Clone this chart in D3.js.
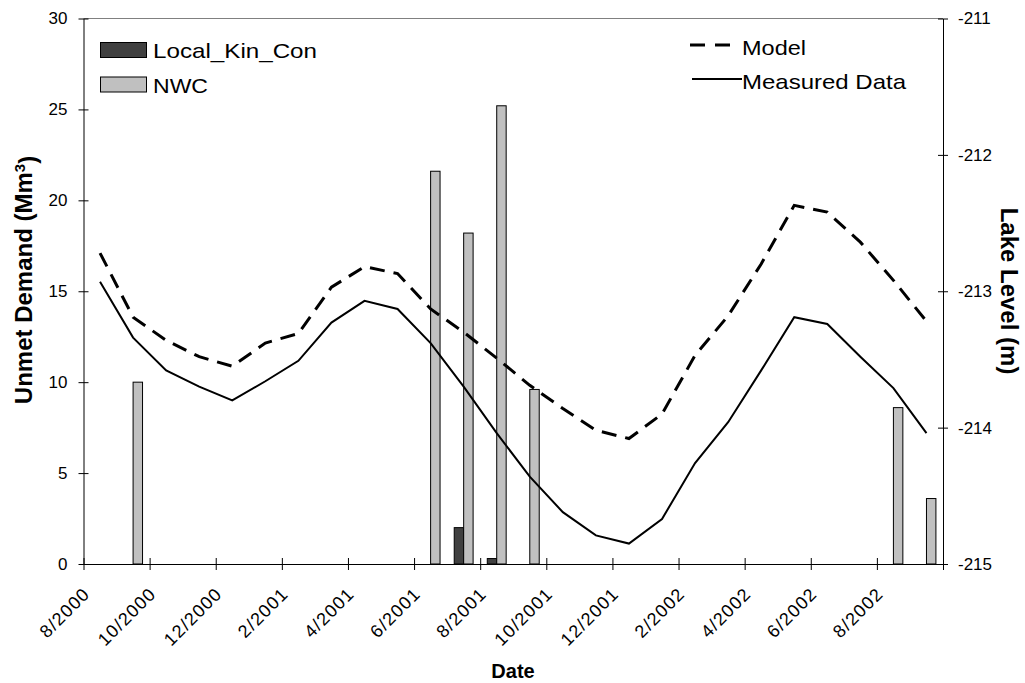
<!DOCTYPE html>
<html>
<head>
<meta charset="utf-8">
<script src="https://cdn.jsdelivr.net/npm/d3@7"></script>
<style>
  body { margin: 0; background: #fff; }
  text { font-family: "Liberation Sans", Arial, sans-serif; fill: #000; }
</style>
</head>
<body>
<svg id="chart" width="1025" height="683"></svg>
<script>
// месяцы (категории)
var months = ['8/2000', '9/2000', '10/2000', '11/2000', '12/2000',
    '1/2001', '2/2001', '3/2001', '4/2001', '5/2001', '6/2001', '7/2001', '8/2001',
    '9/2001', '10/2001', '11/2001', '12/2001',
    '1/2002', '2/2002', '3/2002', '4/2002', '5/2002', '6/2002', '7/2002', '8/2002', '9/2002'];

// Unmet demand (Mm3)
var localKinCon = [0, 0, 0, 0, 0, 0, 0, 0, 0, 0, 0, 2.0, 0.3, 0, 0, 0, 0, 0, 0, 0, 0, 0, 0, 0, 0, 0];
var nwc = [0, 10.0, 0, 0, 0, 0, 0, 0, 0, 0, 21.6, 18.2, 25.2, 9.6, 0, 0, 0, 0, 0, 0, 0, 0, 0, 0, 8.6, 3.6];

// Lake level (m)
var model = [-212.72, -213.19, -213.36, -213.48, -213.55, -213.38, -213.31, -212.97, -212.82, -212.87,
    -213.13, -213.30, -213.49, -213.69, -213.86, -214.02, -214.08, -213.90, -213.47, -213.18,
    -212.80, -212.37, -212.42, -212.64, -212.92, -213.22];
var measured = [-212.93, -213.34, -213.58, -213.70, -213.80, -213.66, -213.51, -213.23, -213.07, -213.13,
    -213.38, -213.70, -214.04, -214.36, -214.62, -214.79, -214.85, -214.67, -214.26, -213.96,
    -213.58, -213.19, -213.24, -213.48, -213.71, -214.04];

var leftTicks = [0, 5, 10, 15, 20, 25, 30];
var rightTicks = [-215, -214, -213, -212, -211];

var svg = d3.select('#chart');
var pLeft = 83.5, pRight = 943, pTop = 18.5, pBottom = 564;

var x = d3.scaleBand().domain(months).range([pLeft, pRight]);
var xIdx = d3.scaleLinear().domain([0, months.length]).range([pLeft, pRight]);
var yL = d3.scaleLinear().domain([0, 30]).range([pBottom, pTop]);
var yR = d3.scaleLinear().domain([-215, -211]).range([pBottom, pTop]);

var bw = x.bandwidth();
var barW = bw / 3.5;
var sub = d3.scaleBand().domain(['Local_Kin_Con', 'NWC']).range([bw / 2 - barW, bw / 2 + barW]);

// верхняя рамка
svg.append('line')
    .attr('x1', pLeft).attr('x2', pRight)
    .attr('y1', pTop).attr('y2', pTop)
    .attr('stroke', '#808080').attr('stroke-width', 1);

// столбцы
var barSeries = [
    { name: 'Local_Kin_Con', values: localKinCon, fill: '#404040' },
    { name: 'NWC', values: nwc, fill: '#c0c0c0' }
];
barSeries.forEach(function (s) {
    var data = months.map(function (m, i) { return { m: m, v: s.values[i] }; })
        .filter(function (d) { return d.v > 0; });
    svg.append('g').selectAll('rect')
        .data(data)
        .enter()
        .append('rect')
        .attr('x', d => x(d.m) + sub(s.name))
        .attr('width', sub.bandwidth())
        .attr('y', d => yL(d.v))
        .attr('height', d => yL(0) - yL(d.v))
        .attr('fill', s.fill)
        .attr('stroke', '#000')
        .attr('stroke-width', 1);
});

// линии уровня озера
var line = d3.line()
    .x((d, i) => x(months[i]) + bw / 2)
    .y(d => yR(d));

svg.append('path')
    .datum(measured)
    .attr('d', line)
    .attr('fill', 'none')
    .attr('stroke', '#000')
    .attr('stroke-width', 2);

svg.append('path')
    .datum(model)
    .attr('d', line)
    .attr('fill', 'none')
    .attr('stroke', '#000')
    .attr('stroke-width', 3)
    .attr('stroke-dasharray', '15,9');

// оси
var axisL = svg.append('g')
    .attr('transform', `translate(${pLeft},0)`)
    .call(d3.axisLeft(yL).tickValues(leftTicks).tickSizeOuter(0));
axisL.selectAll('.tick line').attr('x1', -5).attr('x2', 5);
axisL.selectAll('.tick text').attr('x', -16).style('font-size', '17px');

var axisR = svg.append('g')
    .attr('transform', `translate(${pRight},0)`)
    .call(d3.axisRight(yR).tickValues(rightTicks).tickFormat(d => String(d)).tickSizeOuter(0));
axisR.selectAll('.tick line').attr('x1', -5).attr('x2', 5);
axisR.selectAll('.tick text').attr('x', 15).style('font-size', '17px');

var axisB = svg.append('g')
    .attr('transform', `translate(0,${pBottom})`)
    .call(d3.axisBottom(xIdx)
        .tickValues(d3.range(0, months.length + 1, 2))
        .tickFormat(i => i < months.length ? months[i] : '')
        .tickSizeOuter(0));
axisB.selectAll('.tick line').attr('y1', -6).attr('y2', 6);
axisB.selectAll('.tick text')
    .attr('x', 0).attr('y', 0).attr('dy', 0)
    .attr('text-anchor', 'end')
    .attr('transform', 'translate(7,31) rotate(-45)')
    .style('font-size', '18px')
    .style('letter-spacing', '1.2px');

svg.selectAll('.domain').attr('stroke', '#000');
svg.selectAll('.tick line').attr('stroke', '#000');
svg.selectAll('.tick text').attr('fill', '#000').style('font-family', '"Liberation Sans", Arial, sans-serif');

// подписи осей
var titleL = svg.append('text')
    .attr('transform', 'translate(32,280) rotate(-90)')
    .attr('text-anchor', 'middle')
    .style('font-size', '24px')
    .style('font-weight', 'bold');
titleL.append('tspan').text('Unmet Demand (Mm');
titleL.append('tspan').attr('dy', '-0.45em').style('font-size', '15px').text('3');
titleL.append('tspan').attr('dy', '0.45em').text(')');

svg.append('text')
    .attr('transform', 'translate(1001,291) rotate(90)')
    .attr('text-anchor', 'middle')
    .style('font-size', '24px')
    .style('font-weight', 'bold')
    .text('Lake Level (m)');

svg.append('text')
    .attr('x', 513).attr('y', 678)
    .attr('text-anchor', 'middle')
    .style('font-size', '20px')
    .style('font-weight', 'bold')
    .text('Date');

// легенда столбцов
var legBars = svg.append('g');
barSeries.forEach(function (s, i) {
    var yy = 42.5 + i * 34.5;
    legBars.append('rect')
        .attr('x', 100.5).attr('y', yy)
        .attr('width', 46).attr('height', 15)
        .attr('fill', s.fill).attr('stroke', '#000');
    legBars.append('text')
        .attr('x', 153).attr('y', yy + 15.5)
        .attr('textLength', s.name === 'NWC' ? 55 : 164)
        .attr('lengthAdjust', 'spacingAndGlyphs')
        .style('font-size', '21px')
        .text(s.name);
});

// легенда линий
var lineLegend = [
    { name: 'Model', dash: '15,10', width: 3, x1: 690, x2: 730, y: 45, tl: 64 },
    { name: 'Measured Data', dash: null, width: 2, x1: 692, x2: 742, y: 79, tl: 164 }
];
lineLegend.forEach(function (l) {
    svg.append('line')
        .attr('x1', l.x1).attr('x2', l.x2)
        .attr('y1', l.y).attr('y2', l.y)
        .attr('stroke', '#000')
        .attr('stroke-width', l.width)
        .attr('stroke-dasharray', l.dash);
    svg.append('text')
        .attr('x', 742).attr('y', l.y + 9.5)
        .attr('textLength', l.tl)
        .attr('lengthAdjust', 'spacingAndGlyphs')
        .style('font-size', '21px')
        .text(l.name);
});
</script>
</body>
</html>
